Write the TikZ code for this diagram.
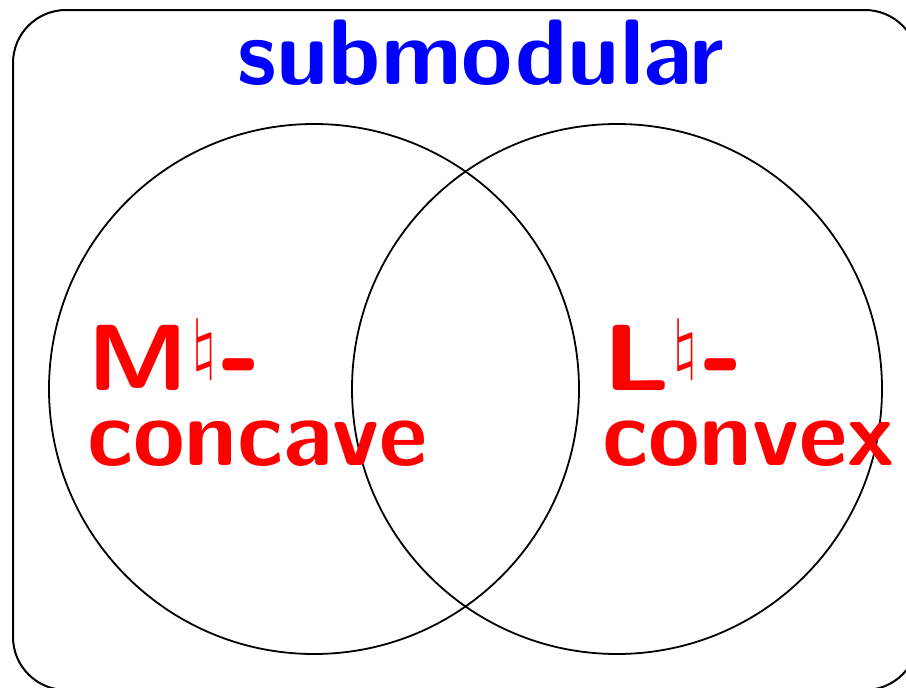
\documentclass[tikz,border=0pt]{standalone}
\RequirePackage{fix-cm}
\newcommand{\bignat}{\raisebox{24pt}{\scalebox{6.6}{\fontsize{10}{12}\selectfont$\natural$}}}
\newcommand{\bighyph}{\raisebox{-13pt}{\scalebox{1.15}[1.8]{-}}}
\begin{document}
\begin{tikzpicture}[x=1pt,y=-1pt,
  lbl/.style={inner sep=0pt,font=\fontsize{94}{75}\selectfont\sffamily\bfseries,text=red},
  ttl/.style={inner sep=0pt,font=\fontsize{93}{93}\selectfont\sffamily\bfseries,text=blue},
  ring/.style={draw=black,line width=1.8pt}]
\useasboundingbox (0,0) rectangle (906,688);
\clip (0,0) rectangle (906,688);
\draw[line width=2pt,rounded corners=53pt] (13,10) rectangle (918,690);
\draw[ring] (314,389) circle (265);
\draw[ring] (617,389) circle (265);
\node[ttl,anchor=base] (sub) at (481,84) {submodular};
\node[lbl,anchor=base west] (m1) at (87.6,390) {\scalebox{1.1}[1]{M}\kern2.2pt\bignat\kern5.2pt\bighyph};
\node[lbl,anchor=base west] (m2) at (87,465) {concave};
\node[lbl,anchor=base west] (l1) at (602.6,390) {\scalebox{1.25}[1]{L}\kern1.8pt\bignat\kern5.2pt\bighyph};
\node[lbl,anchor=base west] (l2) at (602,465) {convex};
\end{tikzpicture}
\end{document}
